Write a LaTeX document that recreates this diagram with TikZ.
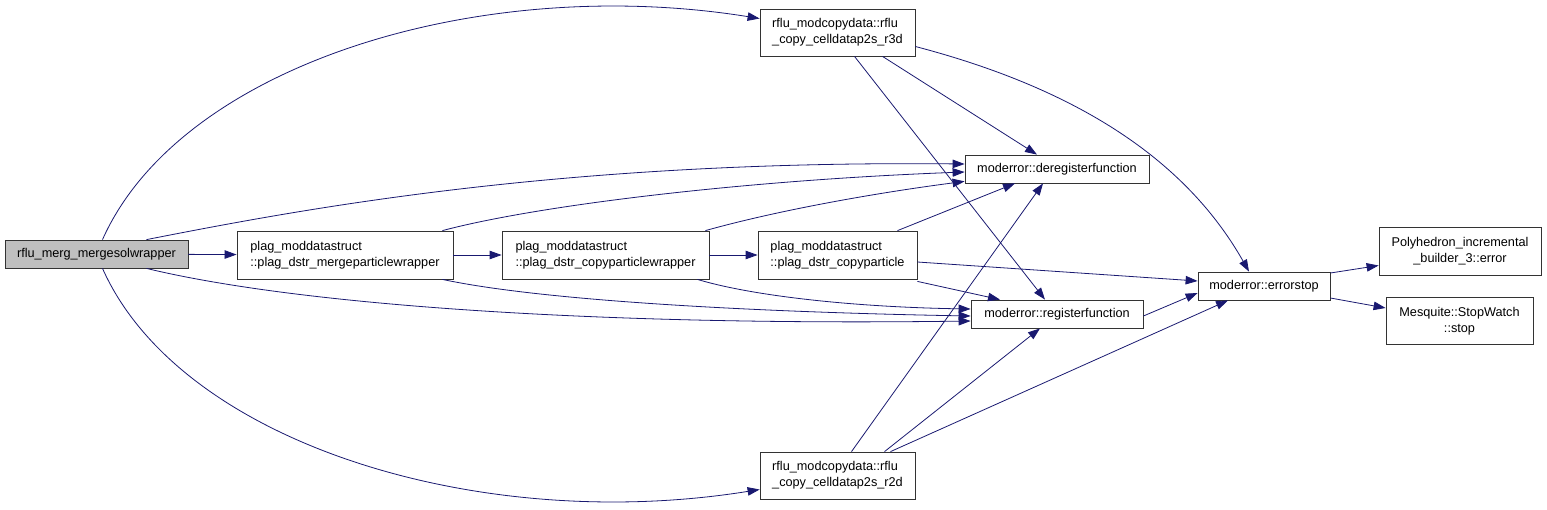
\documentclass[tikz,border=0pt]{standalone}
\usepackage{fontspec}
\setmainfont{Liberation Sans}
\usepackage{tikz}
\usetikzlibrary{arrows.meta}
\definecolor{callblue}{HTML}{191970}
\definecolor{curfill}{HTML}{BFBFBF}

\begin{document}
\begin{tikzpicture}[
  x=1pt, y=-1pt,
  font=\fontsize{12.7}{16}\selectfont,
    fn/.style={draw=black!80, fill=white, line width=0.8pt, inner sep=0pt, align=left},
    cur/.style={fn, fill=curfill},
    call/.style={-{Triangle[length=12pt,width=8.5pt]}, draw=callblue, line width=0.8pt}
]
\useasboundingbox (0,0) rectangle (1547,509);

% Nodes
\node[cur, minimum width=183, minimum height=28] (main) at (96.5,254) {rflu\_merg\_mergesolwrapper};
\node[fn, minimum width=216, minimum height=48] (merge) at (345,255) {plag\_moddatastruct\\::plag\_dstr\_mergeparticlewrapper};
\node[fn, minimum width=207, minimum height=48] (copyw) at (605.5,255) {plag\_moddatastruct\\::plag\_dstr\_copyparticlewrapper};
\node[fn, minimum width=159, minimum height=48] (cpart) at (837.5,255) {plag\_moddatastruct\\::plag\_dstr\_copyparticle};
\node[fn, minimum width=155, minimum height=47] (r3d) at (837.5,32.5) {rflu\_modcopydata::rflu\\\_copy\_celldatap2s\_r3d};
\node[fn, minimum width=155, minimum height=47] (r2d) at (837.5,475.5) {rflu\_modcopydata::rflu\\\_copy\_celldatap2s\_r2d};
\node[fn, minimum width=184, minimum height=28] (dereg) at (1057,169) {moderror::deregisterfunction};
\node[fn, minimum width=172, minimum height=28] (reg) at (1057,314) {moderror::registerfunction};
\node[fn, minimum width=132, minimum height=28] (errstop) at (1264,286) {moderror::errorstop};
\node[fn, minimum width=162, minimum height=48, align=center] (poly) at (1460,251.5) {Polyhedron\_incremental\\\_builder\_3::error};
\node[fn, minimum width=147, minimum height=47, align=center] (mesq) at (1459.5,321) {Mesquite::StopWatch\\::stop};

% Edges from the caller
\draw[call] ([xshift=6]main.north) .. controls +(78,-175) and +(-280,-45) .. ([yshift=14]r3d.west);
\draw[call] ([xshift=50]main.north) .. controls +(153,-30) and +(-405,-4) .. ([yshift=5]dereg.west);
\draw[call] (main) -- (merge);
\draw[call] ([xshift=50]main.south) .. controls +(153,37) and +(-371,5) .. ([yshift=-7]reg.west);
\draw[call] ([xshift=6]main.south) .. controls +(78,175) and +(-280,45) .. ([yshift=-14]r2d.west);

% Edges (particle wrappers)
\draw[call] ([xshift=-11]merge.north east) .. controls +(98,-26) and +(-215,8) .. ([yshift=-3]dereg.west);
\draw[call] (merge) -- (copyw);
\draw[call] ([xshift=-11]merge.south east) .. controls +(98,21) and +(-221,-4) .. ([yshift=-2]reg.west);
\draw[call] ([xshift=-4]copyw.north east) .. controls +(75,-21) and +(-85,11) .. ([yshift=2]dereg.south west);
\draw[call] (copyw) -- (cpart);
\draw[call] ([xshift=-12]copyw.south east) .. controls +(53,16) and +(-121,-2) .. ([yshift=5]reg.west);
\draw[call] ([xshift=60]cpart.north) -- ([xshift=-42]dereg.south);
\draw[call] ([yshift=-2]cpart.south east) -- ([xshift=-57]reg.north);
\draw[call] ([yshift=-7]cpart.east) -- ([yshift=5]errstop.west);

% Edges (copy routines)
\draw[call] ([xshift=45]r3d.south) -- ([xshift=-20]dereg.north);
\draw[call] ([xshift=17]r3d.south) -- ([xshift=-12]reg.north);
\draw[call] ([yshift=-14]r3d.east) .. controls +(145,38) and +(-69,-122) .. ([xshift=-15]errstop.north);
\draw[call] ([xshift=14]r2d.north) -- ([xshift=-14]dereg.south);
\draw[call] ([xshift=47]r2d.north) -- ([xshift=-17]reg.south);
\draw[call] ([xshift=53]r2d.north) -- ([xshift=-36]errstop.south);

% Error handling
\draw[call] ([yshift=-2]reg.east) -- ([yshift=-7]errstop.west);
\draw[call] ([yshift=13]errstop.east) -- ([yshift=-14]poly.west);
\draw[call] ([yshift=-12]errstop.east) -- ([yshift=13]mesq.west);

\end{tikzpicture}
\end{document}
